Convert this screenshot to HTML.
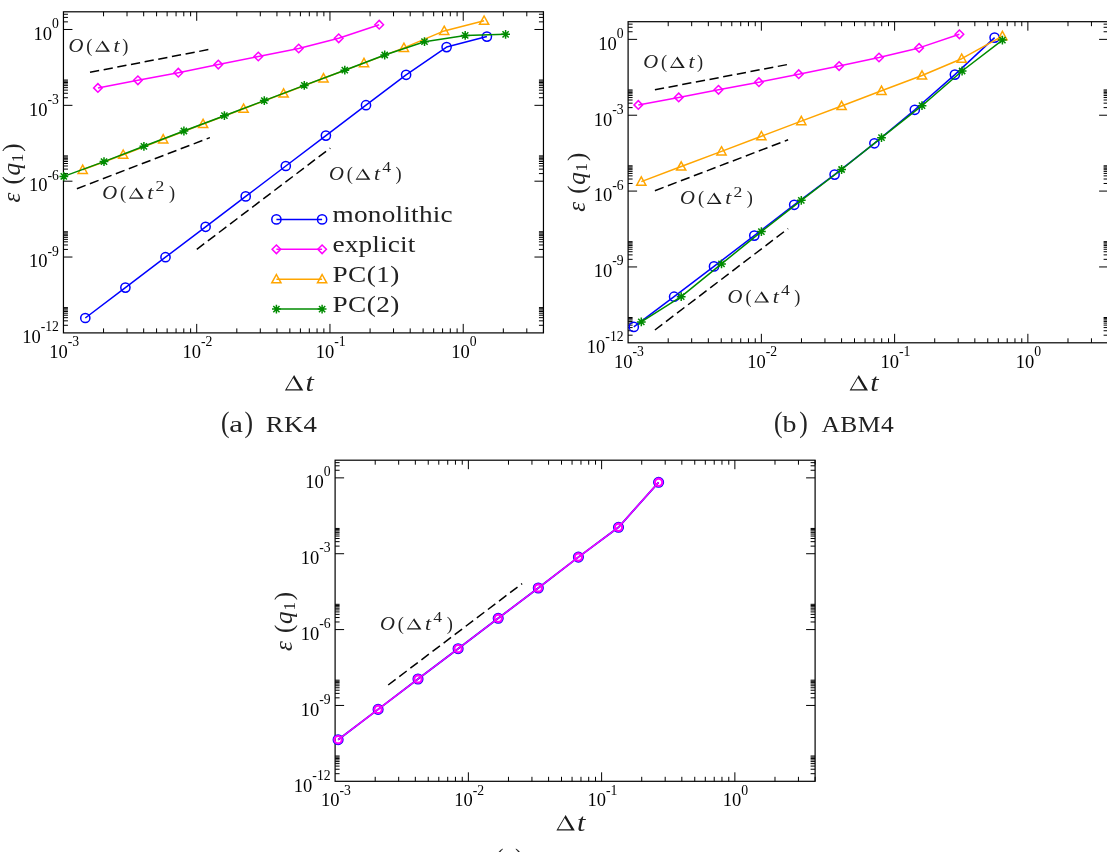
<!DOCTYPE html>
<html><head><meta charset="utf-8"><title>Convergence plots</title>
<style>
html,body{margin:0;padding:0;background:#fff;}
body{width:1107px;height:852px;overflow:hidden;font-family:"Liberation Serif",serif;}
svg{display:block;will-change:transform;}
text{font-family:"Liberation Serif",serif;fill:#000;}
.tk{font-size:18.5px;}
.sup{font-size:13.7px;}
.an{font-size:18.3px;fill:#222;}
.ansup{font-size:15.3px;fill:#222;}
.it{font-style:italic;}
.ax{font-size:25px;fill:#222;}
.axsub{font-size:17px;}
.lg{font-size:22.8px;fill:#222;}
.cap{font-size:23.3px;fill:#222;}
</style></head><body>
<svg width="1107" height="852" viewBox="0 0 1107 852">
<rect width="1107" height="852" fill="#fff"/>
<rect x="63.45" y="11.8" width="480" height="321.1" fill="none" stroke="#000" stroke-width="1.2"/>
<path d="M103.56 332.9v-4.5M103.56 11.8v4.5M127.03 332.9v-4.5M127.03 11.8v4.5M143.68 332.9v-4.5M143.68 11.8v4.5M156.59 332.9v-4.5M156.59 11.8v4.5M167.14 332.9v-4.5M167.14 11.8v4.5M176.07 332.9v-4.5M176.07 11.8v4.5M183.79 332.9v-4.5M183.79 11.8v4.5M190.61 332.9v-4.5M190.61 11.8v4.5M196.71 332.9v-9M196.71 11.8v9M236.82 332.9v-4.5M236.82 11.8v4.5M260.29 332.9v-4.5M260.29 11.8v4.5M276.94 332.9v-4.5M276.94 11.8v4.5M289.85 332.9v-4.5M289.85 11.8v4.5M300.4 332.9v-4.5M300.4 11.8v4.5M309.32 332.9v-4.5M309.32 11.8v4.5M317.05 332.9v-4.5M317.05 11.8v4.5M323.87 332.9v-4.5M323.87 11.8v4.5M329.96 332.9v-9M329.96 11.8v9M370.08 332.9v-4.5M370.08 11.8v4.5M393.54 332.9v-4.5M393.54 11.8v4.5M410.19 332.9v-4.5M410.19 11.8v4.5M423.11 332.9v-4.5M423.11 11.8v4.5M433.66 332.9v-4.5M433.66 11.8v4.5M442.58 332.9v-4.5M442.58 11.8v4.5M450.31 332.9v-4.5M450.31 11.8v4.5M457.12 332.9v-4.5M457.12 11.8v4.5M463.22 332.9v-9M463.22 11.8v9M503.34 332.9v-4.5M503.34 11.8v4.5M526.8 332.9v-4.5M526.8 11.8v4.5M543.45 332.9v-4.5M543.45 11.8v4.5M63.45 325.29h4.5M543.45 325.29h-4.5M63.45 320.84h4.5M543.45 320.84h-4.5M63.45 317.68h4.5M543.45 317.68h-4.5M63.45 315.23h4.5M543.45 315.23h-4.5M63.45 313.22h4.5M543.45 313.22h-4.5M63.45 311.53h4.5M543.45 311.53h-4.5M63.45 310.06h4.5M543.45 310.06h-4.5M63.45 308.77h4.5M543.45 308.77h-4.5M63.45 307.61h4.5M543.45 307.61h-4.5M63.45 257.04h9M543.45 257.04h-9M63.45 249.43h4.5M543.45 249.43h-4.5M63.45 244.98h4.5M543.45 244.98h-4.5M63.45 241.82h4.5M543.45 241.82h-4.5M63.45 239.37h4.5M543.45 239.37h-4.5M63.45 237.37h4.5M543.45 237.37h-4.5M63.45 235.67h4.5M543.45 235.67h-4.5M63.45 234.21h4.5M543.45 234.21h-4.5M63.45 232.91h4.5M543.45 232.91h-4.5M63.45 231.76h4.5M543.45 231.76h-4.5M63.45 181.19h9M543.45 181.19h-9M63.45 173.58h4.5M543.45 173.58h-4.5M63.45 169.12h4.5M543.45 169.12h-4.5M63.45 165.96h4.5M543.45 165.96h-4.5M63.45 163.51h4.5M543.45 163.51h-4.5M63.45 161.51h4.5M543.45 161.51h-4.5M63.45 159.82h4.5M543.45 159.82h-4.5M63.45 158.35h4.5M543.45 158.35h-4.5M63.45 157.06h4.5M543.45 157.06h-4.5M63.45 155.9h4.5M543.45 155.9h-4.5M63.45 105.33h9M543.45 105.33h-9M63.45 97.72h4.5M543.45 97.72h-4.5M63.45 93.27h4.5M543.45 93.27h-4.5M63.45 90.11h4.5M543.45 90.11h-4.5M63.45 87.66h4.5M543.45 87.66h-4.5M63.45 85.65h4.5M543.45 85.65h-4.5M63.45 83.96h4.5M543.45 83.96h-4.5M63.45 82.5h4.5M543.45 82.5h-4.5M63.45 81.2h4.5M543.45 81.2h-4.5M63.45 80.04h4.5M543.45 80.04h-4.5M63.45 29.47h9M543.45 29.47h-9M63.45 21.86h4.5M543.45 21.86h-4.5M63.45 17.41h4.5M543.45 17.41h-4.5M63.45 14.25h4.5M543.45 14.25h-4.5" stroke="#000" stroke-width="1" fill="none"/>
<text x="58.95" y="343.2" text-anchor="end" class="tk"><tspan>10</tspan><tspan class="sup" dy="-11.8">-12</tspan></text>
<text x="58.95" y="267.34" text-anchor="end" class="tk"><tspan>10</tspan><tspan class="sup" dy="-11.8">-9</tspan></text>
<text x="58.95" y="191.49" text-anchor="end" class="tk"><tspan>10</tspan><tspan class="sup" dy="-11.8">-6</tspan></text>
<text x="58.95" y="115.63" text-anchor="end" class="tk"><tspan>10</tspan><tspan class="sup" dy="-11.8">-3</tspan></text>
<text x="58.95" y="39.77" text-anchor="end" class="tk"><tspan>10</tspan><tspan class="sup" dy="-11.8">0</tspan></text>
<text x="49.3" y="357.8" class="tk"><tspan>10</tspan><tspan class="sup" dy="-11.4">-3</tspan></text>
<text x="182.56" y="357.8" class="tk"><tspan>10</tspan><tspan class="sup" dy="-11.4">-2</tspan></text>
<text x="315.81" y="357.8" class="tk"><tspan>10</tspan><tspan class="sup" dy="-11.4">-1</tspan></text>
<text x="451.22" y="357.8" class="tk"><tspan>10</tspan><tspan class="sup" dy="-11.4">0</tspan></text>
<path d="M90 72.3L208.4 49.6" stroke="#000" stroke-width="1.5" stroke-dasharray="9.3 4.6" fill="none"/>
<path d="M76.9 188.7L209.9 137.6" stroke="#000" stroke-width="1.5" stroke-dasharray="9.3 4.6" fill="none"/>
<path d="M196.8 249.3L330.3 148.1" stroke="#000" stroke-width="1.5" stroke-dasharray="9.3 4.6" fill="none"/>
<path d="M85.3 318L125.4 287.6L165.5 257.2L205.6 226.8L245.7 196.4L285.8 166L325.9 135.6L366 105.2L406.1 74.8L446.6 47.1L486.9 36.6" fill="none" stroke="#0000ff" stroke-width="1.5" stroke-linejoin="round"/>
<circle cx="85.3" cy="318" r="4.6" fill="none" stroke="#0000ff" stroke-width="1.5"/>
<circle cx="125.4" cy="287.6" r="4.6" fill="none" stroke="#0000ff" stroke-width="1.5"/>
<circle cx="165.5" cy="257.2" r="4.6" fill="none" stroke="#0000ff" stroke-width="1.5"/>
<circle cx="205.6" cy="226.8" r="4.6" fill="none" stroke="#0000ff" stroke-width="1.5"/>
<circle cx="245.7" cy="196.4" r="4.6" fill="none" stroke="#0000ff" stroke-width="1.5"/>
<circle cx="285.8" cy="166" r="4.6" fill="none" stroke="#0000ff" stroke-width="1.5"/>
<circle cx="325.9" cy="135.6" r="4.6" fill="none" stroke="#0000ff" stroke-width="1.5"/>
<circle cx="366" cy="105.2" r="4.6" fill="none" stroke="#0000ff" stroke-width="1.5"/>
<circle cx="406.1" cy="74.8" r="4.6" fill="none" stroke="#0000ff" stroke-width="1.5"/>
<circle cx="446.6" cy="47.1" r="4.6" fill="none" stroke="#0000ff" stroke-width="1.5"/>
<circle cx="486.9" cy="36.6" r="4.6" fill="none" stroke="#0000ff" stroke-width="1.5"/>
<path d="M97.9 87.9L137.9 80.3L178.3 72.7L218.3 64.6L258.3 56.5L298.7 48.5L338.7 38.3L379.2 24.7" fill="none" stroke="#ff00ff" stroke-width="1.5" stroke-linejoin="round"/>
<path d="M97.9 83.6L102.2 87.9L97.9 92.2L93.6 87.9Z" fill="none" stroke="#ff00ff" stroke-width="1.5" stroke-linejoin="miter"/>
<path d="M137.9 76L142.2 80.3L137.9 84.6L133.6 80.3Z" fill="none" stroke="#ff00ff" stroke-width="1.5" stroke-linejoin="miter"/>
<path d="M178.3 68.4L182.6 72.7L178.3 77L174 72.7Z" fill="none" stroke="#ff00ff" stroke-width="1.5" stroke-linejoin="miter"/>
<path d="M218.3 60.3L222.6 64.6L218.3 68.9L214 64.6Z" fill="none" stroke="#ff00ff" stroke-width="1.5" stroke-linejoin="miter"/>
<path d="M258.3 52.2L262.6 56.5L258.3 60.8L254 56.5Z" fill="none" stroke="#ff00ff" stroke-width="1.5" stroke-linejoin="miter"/>
<path d="M298.7 44.2L303 48.5L298.7 52.8L294.4 48.5Z" fill="none" stroke="#ff00ff" stroke-width="1.5" stroke-linejoin="miter"/>
<path d="M338.7 34L343 38.3L338.7 42.6L334.4 38.3Z" fill="none" stroke="#ff00ff" stroke-width="1.5" stroke-linejoin="miter"/>
<path d="M379.2 20.4L383.5 24.7L379.2 29L374.9 24.7Z" fill="none" stroke="#ff00ff" stroke-width="1.5" stroke-linejoin="miter"/>
<path d="M82.7 169.8L123.2 154.7L163.2 139.3L203.1 124L243.6 108.7L283.6 93.5L323.5 78.3L364 63.1L403.9 47.9L444.2 30.9L484.1 20.7" fill="none" stroke="#ffa500" stroke-width="1.5" stroke-linejoin="round"/>
<path d="M82.7 165.1L87.3 173.4L78.1 173.4Z" fill="none" stroke="#ffa500" stroke-width="1.5" stroke-linejoin="miter"/>
<path d="M123.2 150L127.8 158.3L118.6 158.3Z" fill="none" stroke="#ffa500" stroke-width="1.5" stroke-linejoin="miter"/>
<path d="M163.2 134.6L167.8 142.9L158.6 142.9Z" fill="none" stroke="#ffa500" stroke-width="1.5" stroke-linejoin="miter"/>
<path d="M203.1 119.3L207.7 127.6L198.5 127.6Z" fill="none" stroke="#ffa500" stroke-width="1.5" stroke-linejoin="miter"/>
<path d="M243.6 104L248.2 112.3L239 112.3Z" fill="none" stroke="#ffa500" stroke-width="1.5" stroke-linejoin="miter"/>
<path d="M283.6 88.8L288.2 97.1L279 97.1Z" fill="none" stroke="#ffa500" stroke-width="1.5" stroke-linejoin="miter"/>
<path d="M323.5 73.6L328.1 81.9L318.9 81.9Z" fill="none" stroke="#ffa500" stroke-width="1.5" stroke-linejoin="miter"/>
<path d="M364 58.4L368.6 66.7L359.4 66.7Z" fill="none" stroke="#ffa500" stroke-width="1.5" stroke-linejoin="miter"/>
<path d="M403.9 43.2L408.5 51.5L399.3 51.5Z" fill="none" stroke="#ffa500" stroke-width="1.5" stroke-linejoin="miter"/>
<path d="M444.2 26.2L448.8 34.5L439.6 34.5Z" fill="none" stroke="#ffa500" stroke-width="1.5" stroke-linejoin="miter"/>
<path d="M484.1 16L488.7 24.3L479.5 24.3Z" fill="none" stroke="#ffa500" stroke-width="1.5" stroke-linejoin="miter"/>
<path d="M63.8 176.4L104 161.6L143.9 146.3L183.9 131L224.4 115.7L264.3 100.6L304.3 85.4L344.8 70.2L384.7 55L424.5 41.7L465.2 35.4L505.6 34.3" fill="none" stroke="#008b00" stroke-width="1.5" stroke-linejoin="round"/>
<path d="M59.4 176.4H68.2M63.8 172V180.8M60.69 173.29L66.91 179.51M60.69 179.51L66.91 173.29" fill="none" stroke="#008b00" stroke-width="1.5"/>
<path d="M99.6 161.6H108.4M104 157.2V166M100.89 158.49L107.11 164.71M100.89 164.71L107.11 158.49" fill="none" stroke="#008b00" stroke-width="1.5"/>
<path d="M139.5 146.3H148.3M143.9 141.9V150.7M140.79 143.19L147.01 149.41M140.79 149.41L147.01 143.19" fill="none" stroke="#008b00" stroke-width="1.5"/>
<path d="M179.5 131H188.3M183.9 126.6V135.4M180.79 127.89L187.01 134.11M180.79 134.11L187.01 127.89" fill="none" stroke="#008b00" stroke-width="1.5"/>
<path d="M220 115.7H228.8M224.4 111.3V120.1M221.29 112.59L227.51 118.81M221.29 118.81L227.51 112.59" fill="none" stroke="#008b00" stroke-width="1.5"/>
<path d="M259.9 100.6H268.7M264.3 96.2V105M261.19 97.49L267.41 103.71M261.19 103.71L267.41 97.49" fill="none" stroke="#008b00" stroke-width="1.5"/>
<path d="M299.9 85.4H308.7M304.3 81V89.8M301.19 82.29L307.41 88.51M301.19 88.51L307.41 82.29" fill="none" stroke="#008b00" stroke-width="1.5"/>
<path d="M340.4 70.2H349.2M344.8 65.8V74.6M341.69 67.09L347.91 73.31M341.69 73.31L347.91 67.09" fill="none" stroke="#008b00" stroke-width="1.5"/>
<path d="M380.3 55H389.1M384.7 50.6V59.4M381.59 51.89L387.81 58.11M381.59 58.11L387.81 51.89" fill="none" stroke="#008b00" stroke-width="1.5"/>
<path d="M420.1 41.7H428.9M424.5 37.3V46.1M421.39 38.59L427.61 44.81M421.39 44.81L427.61 38.59" fill="none" stroke="#008b00" stroke-width="1.5"/>
<path d="M460.8 35.4H469.6M465.2 31V39.8M462.09 32.29L468.31 38.51M462.09 38.51L468.31 32.29" fill="none" stroke="#008b00" stroke-width="1.5"/>
<path d="M501.2 34.3H510M505.6 29.9V38.7M502.49 31.19L508.71 37.41M502.49 37.41L508.71 31.19" fill="none" stroke="#008b00" stroke-width="1.5"/>
<text transform="translate(68.5 51.8) scale(1.13 1)" class="an it">O</text>
<text x="86.3" y="51.8" class="an">(</text>
<path d="M95.2 51.7L110 51.7L102.6 40.4ZM96.77 50.52L101.89 42.7L107.01 50.52Z" fill="#1a1a1a" fill-rule="evenodd"/>
<text transform="translate(113.6 51.8) scale(1.2 1)" class="an it">t</text>
<text x="122.3" y="51.8" class="an">)</text>
<text transform="translate(102.2 198.8) scale(1.13 1)" class="an it">O</text>
<text x="120" y="198.8" class="an">(</text>
<path d="M128.9 198.7L143.7 198.7L136.3 187.4ZM130.47 197.52L135.59 189.7L140.71 197.52Z" fill="#1a1a1a" fill-rule="evenodd"/>
<text transform="translate(147.3 198.8) scale(1.2 1)" class="an it">t</text>
<text transform="translate(155.5 191.3) scale(1.15 1)" class="ansup">2</text>
<text x="168.9" y="198.8" class="an">)</text>
<text transform="translate(328.9 179.8) scale(1.13 1)" class="an it">O</text>
<text x="346.7" y="179.8" class="an">(</text>
<path d="M355.6 179.7L370.4 179.7L363 168.4ZM357.17 178.52L362.29 170.7L367.41 178.52Z" fill="#1a1a1a" fill-rule="evenodd"/>
<text transform="translate(374 179.8) scale(1.2 1)" class="an it">t</text>
<text transform="translate(382.2 172.3) scale(1.15 1)" class="ansup">4</text>
<text x="395.6" y="179.8" class="an">)</text>
<path d="M276.4 219.4L322.1 219.4" fill="none" stroke="#0000ff" stroke-width="1.5" stroke-linejoin="round"/>
<circle cx="276.4" cy="219.4" r="4.6" fill="none" stroke="#0000ff" stroke-width="1.5"/>
<circle cx="322.1" cy="219.4" r="4.6" fill="none" stroke="#0000ff" stroke-width="1.5"/>
<text transform="translate(332.5 221.8) scale(1.195 1)" class="lg" textLength="100.59" lengthAdjust="spacing">monolithic</text>
<path d="M276.4 249.3L322.1 249.3" fill="none" stroke="#ff00ff" stroke-width="1.5" stroke-linejoin="round"/>
<path d="M276.4 245L280.7 249.3L276.4 253.6L272.1 249.3Z" fill="none" stroke="#ff00ff" stroke-width="1.5" stroke-linejoin="miter"/>
<path d="M322.1 245L326.4 249.3L322.1 253.6L317.8 249.3Z" fill="none" stroke="#ff00ff" stroke-width="1.5" stroke-linejoin="miter"/>
<text transform="translate(332.5 251.7) scale(1.195 1)" class="lg" textLength="69.29" lengthAdjust="spacing">explicit</text>
<path d="M276.4 279.2L322.1 279.2" fill="none" stroke="#ffa500" stroke-width="1.5" stroke-linejoin="round"/>
<path d="M276.4 274.5L281 282.8L271.8 282.8Z" fill="none" stroke="#ffa500" stroke-width="1.5" stroke-linejoin="miter"/>
<path d="M322.1 274.5L326.7 282.8L317.5 282.8Z" fill="none" stroke="#ffa500" stroke-width="1.5" stroke-linejoin="miter"/>
<text transform="translate(332.5 281.6) scale(1.195 1)" class="lg" textLength="55.98" lengthAdjust="spacing">PC(1)</text>
<path d="M276.4 309.1L322.1 309.1" fill="none" stroke="#008b00" stroke-width="1.5" stroke-linejoin="round"/>
<path d="M272 309.1H280.8M276.4 304.7V313.5M273.29 305.99L279.51 312.21M273.29 312.21L279.51 305.99" fill="none" stroke="#008b00" stroke-width="1.5"/>
<path d="M317.7 309.1H326.5M322.1 304.7V313.5M318.99 305.99L325.21 312.21M318.99 312.21L325.21 305.99" fill="none" stroke="#008b00" stroke-width="1.5"/>
<text transform="translate(332.5 311.5) scale(1.195 1)" class="lg" textLength="55.98" lengthAdjust="spacing">PC(2)</text>
<g transform="translate(19.7 173) rotate(-90)">
<text y="0" class="ax"><tspan x="-29.5" class="it">ε</tspan><tspan x="-11.5" dy="0">(</tspan><tspan x="-2.5" class="it">q</tspan><tspan x="10.8" dy="2.8" class="axsub">1</tspan><tspan x="21.2" dy="-2.8">)</tspan></text>
</g>
<path d="M284.9 390.6L303.3 390.6L294.1 374.9ZM286.72 389.13L293.25 377.99L299.77 389.13Z" fill="#1a1a1a" fill-rule="evenodd"/>
<text transform="translate(305.5 390.9) scale(1.2 0.97)" class="ax it">t</text>
<text transform="translate(220.9 431.8) scale(1.1 1.3)" class="cap">(</text>
<text transform="translate(229.2 432.1) scale(1.33 1)" class="cap">a</text>
<text transform="translate(244.5 431.8) scale(1.1 1.3)" class="cap">)</text>
<text transform="translate(265.8 432.1) scale(1.15 1)" class="cap" textLength="44.43" lengthAdjust="spacing">RK4</text>
<rect x="628.1" y="21.7" width="480" height="321.1" fill="none" stroke="#000" stroke-width="1.2"/>
<path d="M668.21 342.8v-4.5M668.21 21.7v4.5M691.68 342.8v-4.5M691.68 21.7v4.5M708.33 342.8v-4.5M708.33 21.7v4.5M721.24 342.8v-4.5M721.24 21.7v4.5M731.79 342.8v-4.5M731.79 21.7v4.5M740.72 342.8v-4.5M740.72 21.7v4.5M748.44 342.8v-4.5M748.44 21.7v4.5M755.26 342.8v-4.5M755.26 21.7v4.5M761.36 342.8v-9M761.36 21.7v9M801.47 342.8v-4.5M801.47 21.7v4.5M824.94 342.8v-4.5M824.94 21.7v4.5M841.59 342.8v-4.5M841.59 21.7v4.5M854.5 342.8v-4.5M854.5 21.7v4.5M865.05 342.8v-4.5M865.05 21.7v4.5M873.97 342.8v-4.5M873.97 21.7v4.5M881.7 342.8v-4.5M881.7 21.7v4.5M888.52 342.8v-4.5M888.52 21.7v4.5M894.61 342.8v-9M894.61 21.7v9M934.73 342.8v-4.5M934.73 21.7v4.5M958.19 342.8v-4.5M958.19 21.7v4.5M974.84 342.8v-4.5M974.84 21.7v4.5M987.76 342.8v-4.5M987.76 21.7v4.5M998.31 342.8v-4.5M998.31 21.7v4.5M1007.23 342.8v-4.5M1007.23 21.7v4.5M1014.96 342.8v-4.5M1014.96 21.7v4.5M1021.77 342.8v-4.5M1021.77 21.7v4.5M1027.87 342.8v-9M1027.87 21.7v9M1067.99 342.8v-4.5M1067.99 21.7v4.5M1091.45 342.8v-4.5M1091.45 21.7v4.5M1108.1 342.8v-4.5M1108.1 21.7v4.5M628.1 335.19h4.5M1108.1 335.19h-4.5M628.1 330.74h4.5M1108.1 330.74h-4.5M628.1 327.58h4.5M1108.1 327.58h-4.5M628.1 325.13h4.5M1108.1 325.13h-4.5M628.1 323.12h4.5M1108.1 323.12h-4.5M628.1 321.43h4.5M1108.1 321.43h-4.5M628.1 319.96h4.5M1108.1 319.96h-4.5M628.1 318.67h4.5M1108.1 318.67h-4.5M628.1 317.51h4.5M1108.1 317.51h-4.5M628.1 266.94h9M1108.1 266.94h-9M628.1 259.33h4.5M1108.1 259.33h-4.5M628.1 254.88h4.5M1108.1 254.88h-4.5M628.1 251.72h4.5M1108.1 251.72h-4.5M628.1 249.27h4.5M1108.1 249.27h-4.5M628.1 247.27h4.5M1108.1 247.27h-4.5M628.1 245.57h4.5M1108.1 245.57h-4.5M628.1 244.11h4.5M1108.1 244.11h-4.5M628.1 242.81h4.5M1108.1 242.81h-4.5M628.1 241.66h4.5M1108.1 241.66h-4.5M628.1 191.09h9M1108.1 191.09h-9M628.1 183.48h4.5M1108.1 183.48h-4.5M628.1 179.02h4.5M1108.1 179.02h-4.5M628.1 175.86h4.5M1108.1 175.86h-4.5M628.1 173.41h4.5M1108.1 173.41h-4.5M628.1 171.41h4.5M1108.1 171.41h-4.5M628.1 169.72h4.5M1108.1 169.72h-4.5M628.1 168.25h4.5M1108.1 168.25h-4.5M628.1 166.96h4.5M1108.1 166.96h-4.5M628.1 165.8h4.5M1108.1 165.8h-4.5M628.1 115.23h9M1108.1 115.23h-9M628.1 107.62h4.5M1108.1 107.62h-4.5M628.1 103.17h4.5M1108.1 103.17h-4.5M628.1 100.01h4.5M1108.1 100.01h-4.5M628.1 97.56h4.5M1108.1 97.56h-4.5M628.1 95.55h4.5M1108.1 95.55h-4.5M628.1 93.86h4.5M1108.1 93.86h-4.5M628.1 92.4h4.5M1108.1 92.4h-4.5M628.1 91.1h4.5M1108.1 91.1h-4.5M628.1 89.94h4.5M1108.1 89.94h-4.5M628.1 39.37h9M1108.1 39.37h-9M628.1 31.76h4.5M1108.1 31.76h-4.5M628.1 27.31h4.5M1108.1 27.31h-4.5M628.1 24.15h4.5M1108.1 24.15h-4.5" stroke="#000" stroke-width="1" fill="none"/>
<text x="623.6" y="353.1" text-anchor="end" class="tk"><tspan>10</tspan><tspan class="sup" dy="-11.8">-12</tspan></text>
<text x="623.6" y="277.24" text-anchor="end" class="tk"><tspan>10</tspan><tspan class="sup" dy="-11.8">-9</tspan></text>
<text x="623.6" y="201.39" text-anchor="end" class="tk"><tspan>10</tspan><tspan class="sup" dy="-11.8">-6</tspan></text>
<text x="623.6" y="125.53" text-anchor="end" class="tk"><tspan>10</tspan><tspan class="sup" dy="-11.8">-3</tspan></text>
<text x="623.6" y="49.67" text-anchor="end" class="tk"><tspan>10</tspan><tspan class="sup" dy="-11.8">0</tspan></text>
<text x="613.95" y="367.7" class="tk"><tspan>10</tspan><tspan class="sup" dy="-11.4">-3</tspan></text>
<text x="747.21" y="367.7" class="tk"><tspan>10</tspan><tspan class="sup" dy="-11.4">-2</tspan></text>
<text x="880.46" y="367.7" class="tk"><tspan>10</tspan><tspan class="sup" dy="-11.4">-1</tspan></text>
<text x="1015.87" y="367.7" class="tk"><tspan>10</tspan><tspan class="sup" dy="-11.4">0</tspan></text>
<path d="M654.9 89.8L787.1 64.6" stroke="#000" stroke-width="1.5" stroke-dasharray="9.3 4.6" fill="none"/>
<path d="M654.9 190.7L788.1 139.8" stroke="#000" stroke-width="1.5" stroke-dasharray="9.3 4.6" fill="none"/>
<path d="M654.9 330L788.1 228.6" stroke="#000" stroke-width="1.5" stroke-dasharray="9.3 4.6" fill="none"/>
<path d="M633.8 326.9L674.1 296.7L714 266.4L754.3 235.6L794.2 204.8L834.6 174.6L874.4 143.3L914.8 109.8L954.9 74.6L994.6 37.6" fill="none" stroke="#0000ff" stroke-width="1.5" stroke-linejoin="round"/>
<circle cx="633.8" cy="326.9" r="4.6" fill="none" stroke="#0000ff" stroke-width="1.5"/>
<circle cx="674.1" cy="296.7" r="4.6" fill="none" stroke="#0000ff" stroke-width="1.5"/>
<circle cx="714" cy="266.4" r="4.6" fill="none" stroke="#0000ff" stroke-width="1.5"/>
<circle cx="754.3" cy="235.6" r="4.6" fill="none" stroke="#0000ff" stroke-width="1.5"/>
<circle cx="794.2" cy="204.8" r="4.6" fill="none" stroke="#0000ff" stroke-width="1.5"/>
<circle cx="834.6" cy="174.6" r="4.6" fill="none" stroke="#0000ff" stroke-width="1.5"/>
<circle cx="874.4" cy="143.3" r="4.6" fill="none" stroke="#0000ff" stroke-width="1.5"/>
<circle cx="914.8" cy="109.8" r="4.6" fill="none" stroke="#0000ff" stroke-width="1.5"/>
<circle cx="954.9" cy="74.6" r="4.6" fill="none" stroke="#0000ff" stroke-width="1.5"/>
<circle cx="994.6" cy="37.6" r="4.6" fill="none" stroke="#0000ff" stroke-width="1.5"/>
<path d="M638.3 104.9L678.7 97.4L718.5 89.8L758.9 82.2L798.7 74.2L839.1 66.1L879 57.5L919.1 47.9L959.4 34.3" fill="none" stroke="#ff00ff" stroke-width="1.5" stroke-linejoin="round"/>
<path d="M638.3 100.6L642.6 104.9L638.3 109.2L634 104.9Z" fill="none" stroke="#ff00ff" stroke-width="1.5" stroke-linejoin="miter"/>
<path d="M678.7 93.1L683 97.4L678.7 101.7L674.4 97.4Z" fill="none" stroke="#ff00ff" stroke-width="1.5" stroke-linejoin="miter"/>
<path d="M718.5 85.5L722.8 89.8L718.5 94.1L714.2 89.8Z" fill="none" stroke="#ff00ff" stroke-width="1.5" stroke-linejoin="miter"/>
<path d="M758.9 77.9L763.2 82.2L758.9 86.5L754.6 82.2Z" fill="none" stroke="#ff00ff" stroke-width="1.5" stroke-linejoin="miter"/>
<path d="M798.7 69.9L803 74.2L798.7 78.5L794.4 74.2Z" fill="none" stroke="#ff00ff" stroke-width="1.5" stroke-linejoin="miter"/>
<path d="M839.1 61.8L843.4 66.1L839.1 70.4L834.8 66.1Z" fill="none" stroke="#ff00ff" stroke-width="1.5" stroke-linejoin="miter"/>
<path d="M879 53.2L883.3 57.5L879 61.8L874.7 57.5Z" fill="none" stroke="#ff00ff" stroke-width="1.5" stroke-linejoin="miter"/>
<path d="M919.1 43.6L923.4 47.9L919.1 52.2L914.8 47.9Z" fill="none" stroke="#ff00ff" stroke-width="1.5" stroke-linejoin="miter"/>
<path d="M959.4 30L963.7 34.3L959.4 38.6L955.1 34.3Z" fill="none" stroke="#ff00ff" stroke-width="1.5" stroke-linejoin="miter"/>
<path d="M641.3 181.6L681.2 166.5L721.5 151.4L761.4 136.2L801.3 121.1L841.6 106L881.5 90.8L922 75.5L961.7 58.7L1002.4 36.1" fill="none" stroke="#ffa500" stroke-width="1.5" stroke-linejoin="round"/>
<path d="M641.3 176.9L645.9 185.2L636.7 185.2Z" fill="none" stroke="#ffa500" stroke-width="1.5" stroke-linejoin="miter"/>
<path d="M681.2 161.8L685.8 170.1L676.6 170.1Z" fill="none" stroke="#ffa500" stroke-width="1.5" stroke-linejoin="miter"/>
<path d="M721.5 146.7L726.1 155L716.9 155Z" fill="none" stroke="#ffa500" stroke-width="1.5" stroke-linejoin="miter"/>
<path d="M761.4 131.5L766 139.8L756.8 139.8Z" fill="none" stroke="#ffa500" stroke-width="1.5" stroke-linejoin="miter"/>
<path d="M801.3 116.4L805.9 124.7L796.7 124.7Z" fill="none" stroke="#ffa500" stroke-width="1.5" stroke-linejoin="miter"/>
<path d="M841.6 101.3L846.2 109.6L837 109.6Z" fill="none" stroke="#ffa500" stroke-width="1.5" stroke-linejoin="miter"/>
<path d="M881.5 86.1L886.1 94.4L876.9 94.4Z" fill="none" stroke="#ffa500" stroke-width="1.5" stroke-linejoin="miter"/>
<path d="M922 70.8L926.6 79.1L917.4 79.1Z" fill="none" stroke="#ffa500" stroke-width="1.5" stroke-linejoin="miter"/>
<path d="M961.7 54L966.3 62.3L957.1 62.3Z" fill="none" stroke="#ffa500" stroke-width="1.5" stroke-linejoin="miter"/>
<path d="M1002.4 31.4L1007 39.7L997.8 39.7Z" fill="none" stroke="#ffa500" stroke-width="1.5" stroke-linejoin="miter"/>
<path d="M641.3 321.9L681.2 296.7L721.5 263.9L761.4 231.6L801.3 200.3L841.6 169.5L881.5 137.7L922 105.7L962.1 71L1002.4 40.1" fill="none" stroke="#008b00" stroke-width="1.5" stroke-linejoin="round"/>
<path d="M636.9 321.9H645.7M641.3 317.5V326.3M638.19 318.79L644.41 325.01M638.19 325.01L644.41 318.79" fill="none" stroke="#008b00" stroke-width="1.5"/>
<path d="M676.8 296.7H685.6M681.2 292.3V301.1M678.09 293.59L684.31 299.81M678.09 299.81L684.31 293.59" fill="none" stroke="#008b00" stroke-width="1.5"/>
<path d="M717.1 263.9H725.9M721.5 259.5V268.3M718.39 260.79L724.61 267.01M718.39 267.01L724.61 260.79" fill="none" stroke="#008b00" stroke-width="1.5"/>
<path d="M757 231.6H765.8M761.4 227.2V236M758.29 228.49L764.51 234.71M758.29 234.71L764.51 228.49" fill="none" stroke="#008b00" stroke-width="1.5"/>
<path d="M796.9 200.3H805.7M801.3 195.9V204.7M798.19 197.19L804.41 203.41M798.19 203.41L804.41 197.19" fill="none" stroke="#008b00" stroke-width="1.5"/>
<path d="M837.2 169.5H846M841.6 165.1V173.9M838.49 166.39L844.71 172.61M838.49 172.61L844.71 166.39" fill="none" stroke="#008b00" stroke-width="1.5"/>
<path d="M877.1 137.7H885.9M881.5 133.3V142.1M878.39 134.59L884.61 140.81M878.39 140.81L884.61 134.59" fill="none" stroke="#008b00" stroke-width="1.5"/>
<path d="M917.6 105.7H926.4M922 101.3V110.1M918.89 102.59L925.11 108.81M918.89 108.81L925.11 102.59" fill="none" stroke="#008b00" stroke-width="1.5"/>
<path d="M957.7 71H966.5M962.1 66.6V75.4M958.99 67.89L965.21 74.11M958.99 74.11L965.21 67.89" fill="none" stroke="#008b00" stroke-width="1.5"/>
<path d="M998 40.1H1006.8M1002.4 35.7V44.5M999.29 36.99L1005.51 43.21M999.29 43.21L1005.51 36.99" fill="none" stroke="#008b00" stroke-width="1.5"/>
<text transform="translate(643.3 68) scale(1.13 1)" class="an it">O</text>
<text x="661.1" y="68" class="an">(</text>
<path d="M670 67.9L684.8 67.9L677.4 56.6ZM671.57 66.72L676.69 58.9L681.81 66.72Z" fill="#1a1a1a" fill-rule="evenodd"/>
<text transform="translate(688.4 68) scale(1.2 1)" class="an it">t</text>
<text x="697.1" y="68" class="an">)</text>
<text transform="translate(680.1 204) scale(1.13 1)" class="an it">O</text>
<text x="697.9" y="204" class="an">(</text>
<path d="M706.8 203.9L721.6 203.9L714.2 192.6ZM708.37 202.72L713.49 194.9L718.61 202.72Z" fill="#1a1a1a" fill-rule="evenodd"/>
<text transform="translate(725.2 204) scale(1.2 1)" class="an it">t</text>
<text transform="translate(733.4 196.5) scale(1.15 1)" class="ansup">2</text>
<text x="746.8" y="204" class="an">)</text>
<text transform="translate(727.6 302.7) scale(1.13 1)" class="an it">O</text>
<text x="745.4" y="302.7" class="an">(</text>
<path d="M754.3 302.6L769.1 302.6L761.7 291.3ZM755.87 301.42L760.99 293.6L766.11 301.42Z" fill="#1a1a1a" fill-rule="evenodd"/>
<text transform="translate(772.7 302.7) scale(1.2 1)" class="an it">t</text>
<text transform="translate(780.9 295.2) scale(1.15 1)" class="ansup">4</text>
<text x="794.3" y="302.7" class="an">)</text>
<g transform="translate(584.5 182.3) rotate(-90)">
<text y="0" class="ax"><tspan x="-29.5" class="it">ε</tspan><tspan x="-11.5" dy="0">(</tspan><tspan x="-2.5" class="it">q</tspan><tspan x="10.8" dy="2.8" class="axsub">1</tspan><tspan x="21.2" dy="-2.8">)</tspan></text>
</g>
<path d="M849.6 390.6L868 390.6L858.8 374.9ZM851.42 389.13L857.95 377.99L864.47 389.13Z" fill="#1a1a1a" fill-rule="evenodd"/>
<text transform="translate(870.2 390.9) scale(1.2 0.97)" class="ax it">t</text>
<text transform="translate(774.1 431.6) scale(1.1 1.3)" class="cap">(</text>
<text transform="translate(782.4 431.9) scale(1.2 1)" class="cap">b</text>
<text transform="translate(799.2 431.6) scale(1.1 1.3)" class="cap">)</text>
<text transform="translate(821.4 431.9) scale(1.094 1)" class="cap" textLength="66.09" lengthAdjust="spacing">ABM4</text>
<rect x="335.1" y="460.2" width="480" height="321.1" fill="none" stroke="#000" stroke-width="1.2"/>
<path d="M375.21 781.3v-4.5M375.21 460.2v4.5M398.68 781.3v-4.5M398.68 460.2v4.5M415.33 781.3v-4.5M415.33 460.2v4.5M428.24 781.3v-4.5M428.24 460.2v4.5M438.79 781.3v-4.5M438.79 460.2v4.5M447.72 781.3v-4.5M447.72 460.2v4.5M455.44 781.3v-4.5M455.44 460.2v4.5M462.26 781.3v-4.5M462.26 460.2v4.5M468.36 781.3v-9M468.36 460.2v9M508.47 781.3v-4.5M508.47 460.2v4.5M531.94 781.3v-4.5M531.94 460.2v4.5M548.59 781.3v-4.5M548.59 460.2v4.5M561.5 781.3v-4.5M561.5 460.2v4.5M572.05 781.3v-4.5M572.05 460.2v4.5M580.97 781.3v-4.5M580.97 460.2v4.5M588.7 781.3v-4.5M588.7 460.2v4.5M595.52 781.3v-4.5M595.52 460.2v4.5M601.61 781.3v-9M601.61 460.2v9M641.73 781.3v-4.5M641.73 460.2v4.5M665.19 781.3v-4.5M665.19 460.2v4.5M681.84 781.3v-4.5M681.84 460.2v4.5M694.76 781.3v-4.5M694.76 460.2v4.5M705.31 781.3v-4.5M705.31 460.2v4.5M714.23 781.3v-4.5M714.23 460.2v4.5M721.96 781.3v-4.5M721.96 460.2v4.5M728.77 781.3v-4.5M728.77 460.2v4.5M734.87 781.3v-9M734.87 460.2v9M774.99 781.3v-4.5M774.99 460.2v4.5M798.45 781.3v-4.5M798.45 460.2v4.5M815.1 781.3v-4.5M815.1 460.2v4.5M335.1 773.69h4.5M815.1 773.69h-4.5M335.1 769.24h4.5M815.1 769.24h-4.5M335.1 766.08h4.5M815.1 766.08h-4.5M335.1 763.63h4.5M815.1 763.63h-4.5M335.1 761.62h4.5M815.1 761.62h-4.5M335.1 759.93h4.5M815.1 759.93h-4.5M335.1 758.46h4.5M815.1 758.46h-4.5M335.1 757.17h4.5M815.1 757.17h-4.5M335.1 756.01h4.5M815.1 756.01h-4.5M335.1 705.44h9M815.1 705.44h-9M335.1 697.83h4.5M815.1 697.83h-4.5M335.1 693.38h4.5M815.1 693.38h-4.5M335.1 690.22h4.5M815.1 690.22h-4.5M335.1 687.77h4.5M815.1 687.77h-4.5M335.1 685.77h4.5M815.1 685.77h-4.5M335.1 684.07h4.5M815.1 684.07h-4.5M335.1 682.61h4.5M815.1 682.61h-4.5M335.1 681.31h4.5M815.1 681.31h-4.5M335.1 680.16h4.5M815.1 680.16h-4.5M335.1 629.59h9M815.1 629.59h-9M335.1 621.98h4.5M815.1 621.98h-4.5M335.1 617.52h4.5M815.1 617.52h-4.5M335.1 614.36h4.5M815.1 614.36h-4.5M335.1 611.91h4.5M815.1 611.91h-4.5M335.1 609.91h4.5M815.1 609.91h-4.5M335.1 608.22h4.5M815.1 608.22h-4.5M335.1 606.75h4.5M815.1 606.75h-4.5M335.1 605.46h4.5M815.1 605.46h-4.5M335.1 604.3h4.5M815.1 604.3h-4.5M335.1 553.73h9M815.1 553.73h-9M335.1 546.12h4.5M815.1 546.12h-4.5M335.1 541.67h4.5M815.1 541.67h-4.5M335.1 538.51h4.5M815.1 538.51h-4.5M335.1 536.06h4.5M815.1 536.06h-4.5M335.1 534.05h4.5M815.1 534.05h-4.5M335.1 532.36h4.5M815.1 532.36h-4.5M335.1 530.9h4.5M815.1 530.9h-4.5M335.1 529.6h4.5M815.1 529.6h-4.5M335.1 528.44h4.5M815.1 528.44h-4.5M335.1 477.87h9M815.1 477.87h-9M335.1 470.26h4.5M815.1 470.26h-4.5M335.1 465.81h4.5M815.1 465.81h-4.5M335.1 462.65h4.5M815.1 462.65h-4.5" stroke="#000" stroke-width="1" fill="none"/>
<text x="330.6" y="791.6" text-anchor="end" class="tk"><tspan>10</tspan><tspan class="sup" dy="-11.8">-12</tspan></text>
<text x="330.6" y="715.74" text-anchor="end" class="tk"><tspan>10</tspan><tspan class="sup" dy="-11.8">-9</tspan></text>
<text x="330.6" y="639.89" text-anchor="end" class="tk"><tspan>10</tspan><tspan class="sup" dy="-11.8">-6</tspan></text>
<text x="330.6" y="564.03" text-anchor="end" class="tk"><tspan>10</tspan><tspan class="sup" dy="-11.8">-3</tspan></text>
<text x="330.6" y="488.17" text-anchor="end" class="tk"><tspan>10</tspan><tspan class="sup" dy="-11.8">0</tspan></text>
<text x="320.95" y="806.2" class="tk"><tspan>10</tspan><tspan class="sup" dy="-11.4">-3</tspan></text>
<text x="454.21" y="806.2" class="tk"><tspan>10</tspan><tspan class="sup" dy="-11.4">-2</tspan></text>
<text x="587.46" y="806.2" class="tk"><tspan>10</tspan><tspan class="sup" dy="-11.4">-1</tspan></text>
<text x="722.87" y="806.2" class="tk"><tspan>10</tspan><tspan class="sup" dy="-11.4">0</tspan></text>
<path d="M388.2 685L522.1 583.6" stroke="#000" stroke-width="1.5" stroke-dasharray="9.3 4.6" fill="none"/>
<path d="M338.1 739.7L378.1 709.4L418 679L458.1 648.7L498.2 618.3L538.3 588L578.4 557.1L618.5 527.3L658.6 482.3" fill="none" stroke="#0000ff" stroke-width="1.8"/>
<circle cx="338.1" cy="739.7" r="4.6" fill="none" stroke="#0000ff" stroke-width="1.9"/>
<circle cx="378.1" cy="709.4" r="4.6" fill="none" stroke="#0000ff" stroke-width="1.9"/>
<circle cx="418" cy="679" r="4.6" fill="none" stroke="#0000ff" stroke-width="1.9"/>
<circle cx="458.1" cy="648.7" r="4.6" fill="none" stroke="#0000ff" stroke-width="1.9"/>
<circle cx="498.2" cy="618.3" r="4.6" fill="none" stroke="#0000ff" stroke-width="1.9"/>
<circle cx="538.3" cy="588" r="4.6" fill="none" stroke="#0000ff" stroke-width="1.9"/>
<circle cx="578.4" cy="557.1" r="4.6" fill="none" stroke="#0000ff" stroke-width="1.9"/>
<circle cx="618.5" cy="527.3" r="4.6" fill="none" stroke="#0000ff" stroke-width="1.9"/>
<circle cx="658.6" cy="482.3" r="4.6" fill="none" stroke="#0000ff" stroke-width="1.9"/>
<path d="M338.1 739.7L378.1 709.4L418 679L458.1 648.7L498.2 618.3L538.3 588L578.4 557.1L618.5 527.3L658.6 482.3" fill="none" stroke="#ff00ff" stroke-width="1.4"/>
<circle cx="338.1" cy="739.7" r="3.7" fill="none" stroke="#ff00ff" stroke-width="2.2"/>
<circle cx="378.1" cy="709.4" r="3.7" fill="none" stroke="#ff00ff" stroke-width="2.2"/>
<circle cx="418" cy="679" r="3.7" fill="none" stroke="#ff00ff" stroke-width="2.2"/>
<circle cx="458.1" cy="648.7" r="3.7" fill="none" stroke="#ff00ff" stroke-width="2.2"/>
<circle cx="498.2" cy="618.3" r="3.7" fill="none" stroke="#ff00ff" stroke-width="2.2"/>
<circle cx="538.3" cy="588" r="3.7" fill="none" stroke="#ff00ff" stroke-width="2.2"/>
<circle cx="578.4" cy="557.1" r="3.7" fill="none" stroke="#ff00ff" stroke-width="2.2"/>
<circle cx="618.5" cy="527.3" r="3.7" fill="none" stroke="#ff00ff" stroke-width="2.2"/>
<circle cx="658.6" cy="482.3" r="3.7" fill="none" stroke="#ff00ff" stroke-width="2.2"/>
<text transform="translate(380 629.6) scale(1.13 1)" class="an it">O</text>
<text x="397.8" y="629.6" class="an">(</text>
<path d="M406.7 629.5L421.5 629.5L414.1 618.2ZM408.27 628.32L413.39 620.5L418.51 628.32Z" fill="#1a1a1a" fill-rule="evenodd"/>
<text transform="translate(425.1 629.6) scale(1.2 1)" class="an it">t</text>
<text transform="translate(433.3 622.1) scale(1.15 1)" class="ansup">4</text>
<text x="446.7" y="629.6" class="an">)</text>
<g transform="translate(292 621.4) rotate(-90)">
<text y="0" class="ax"><tspan x="-29.5" class="it">ε</tspan><tspan x="-11.5" dy="0">(</tspan><tspan x="-2.5" class="it">q</tspan><tspan x="10.8" dy="2.8" class="axsub">1</tspan><tspan x="21.2" dy="-2.8">)</tspan></text>
</g>
<path d="M556.4 830.6L574.8 830.6L565.6 814.9ZM558.22 829.13L564.75 817.99L571.27 829.13Z" fill="#1a1a1a" fill-rule="evenodd"/>
<text transform="translate(577 830.9) scale(1.2 0.97)" class="ax it">t</text>
<text transform="translate(494.9 869.1) scale(1.1 1.3)" class="cap">(</text>
<text transform="translate(503.2 869.4) scale(1.3 1)" class="cap">c</text>
<text transform="translate(515 869.1) scale(1.1 1.3)" class="cap">)</text>
</svg>
</body></html>
